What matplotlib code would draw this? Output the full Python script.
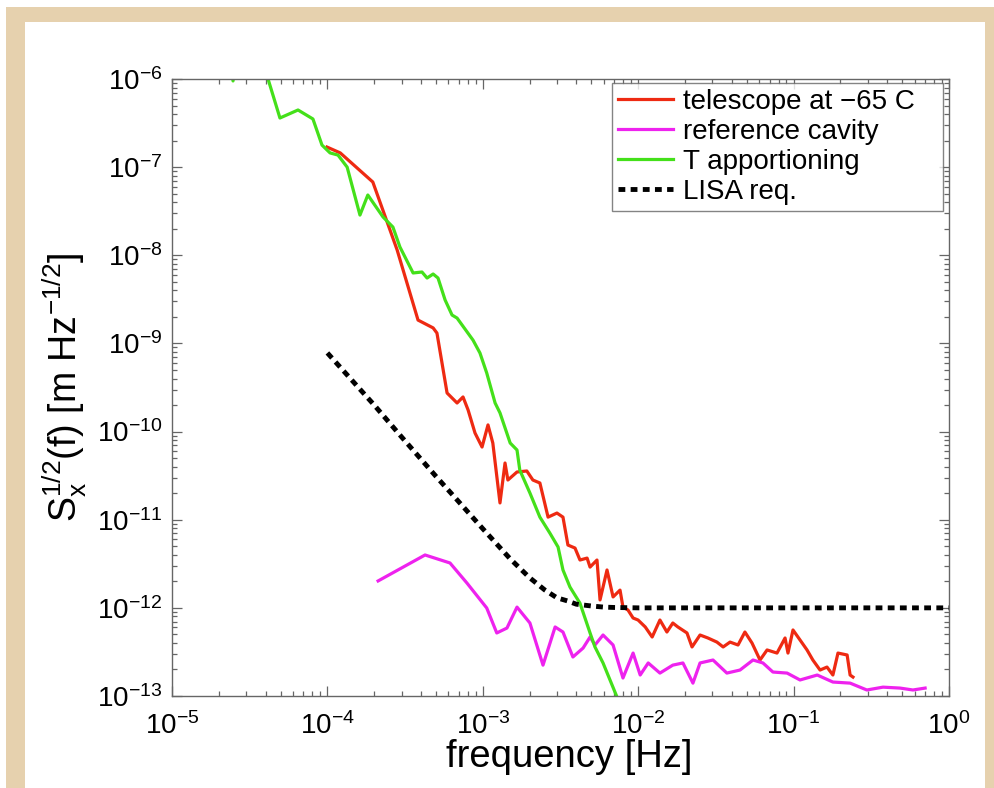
import numpy as np
import matplotlib
matplotlib.use("Agg")
import matplotlib.pyplot as plt
from matplotlib.patches import Rectangle
from matplotlib.ticker import LogLocator, NullFormatter

plt.rcParams.update({
    "font.family": ["Liberation Sans", "DejaVu Sans"],
    "mathtext.fontset": "custom",
    "mathtext.rm": "Liberation Sans",
    "mathtext.it": "Liberation Sans:italic",
    "mathtext.default": "regular",
    "axes.unicode_minus": False,
})

# telescope at -65 C  (red)
RED_F = [9.94e-5, 1.21e-4, 1.96e-4, 2.81e-4, 3.83e-4, 4.79e-4, 5.07e-4, 5.89e-4,
         6.83e-4, 7.46e-4, 8.04e-4, 8.91e-4, 9.89e-4, 1.08e-3, 1.16e-3, 1.29e-3,
         1.39e-3, 1.45e-3, 1.66e-3, 1.92e-3, 2.10e-3, 2.33e-3, 2.63e-3, 3.00e-3,
         3.28e-3, 3.53e-3, 3.92e-3, 4.22e-3, 4.69e-3, 4.90e-3, 5.43e-3, 5.68e-3,
         6.30e-3, 6.89e-3, 7.64e-3, 7.98e-3, 8.59e-3, 9.27e-3, 9.98e-3, 1.11e-2,
         1.23e-2, 1.38e-2, 1.53e-2, 1.67e-2, 1.80e-2, 2.06e-2, 2.22e-2, 2.50e-2,
         2.81e-2, 3.21e-2, 3.52e-2, 3.90e-2, 4.39e-2, 4.86e-2, 5.40e-2, 6.08e-2,
         6.75e-2, 7.82e-2, 8.81e-2, 9.20e-2, 9.91e-2, 0.110, 0.122, 0.133,
         0.148, 0.164, 0.179, 0.193, 0.221, 0.231, 0.241]
RED_S = [1.69e-7, 1.45e-7, 6.78e-8, 1.15e-8, 1.84e-9, 1.50e-9, 1.31e-9, 2.74e-10,
         2.11e-10, 2.47e-10, 1.76e-10, 9.63e-11, 6.68e-11, 1.19e-10, 7.42e-11, 1.55e-11,
         4.40e-11, 2.82e-11, 3.48e-11, 3.57e-11, 2.82e-11, 2.61e-11, 1.07e-11, 1.19e-11,
         1.07e-11, 5.16e-12, 4.77e-12, 3.49e-12, 3.67e-12, 2.90e-12, 3.49e-12, 1.23e-12,
         2.69e-12, 1.33e-12, 1.59e-12, 1.02e-12, 9.46e-13, 7.67e-13, 7.28e-13, 6.07e-13,
         4.67e-13, 7.28e-13, 5.32e-13, 6.73e-13, 6.07e-13, 5.19e-13, 3.60e-13, 4.92e-13,
         4.55e-13, 4.09e-13, 3.60e-13, 4.09e-13, 3.79e-13, 5.32e-13, 3.99e-13, 2.56e-13,
         3.33e-13, 3.07e-13, 4.55e-13, 3.07e-13, 5.61e-13, 4.32e-13, 3.33e-13, 2.56e-13,
         1.97e-13, 2.13e-13, 1.73e-13, 3.07e-13, 2.92e-13, 1.73e-13, 1.64e-13]

# reference cavity (magenta)
CAV_F = [2.12e-4, 4.25e-4, 6.15e-4, 7.91e-4, 1.06e-3, 1.23e-3, 1.43e-3, 1.66e-3,
         2.01e-3, 2.44e-3, 2.92e-3, 3.28e-3, 3.80e-3, 4.42e-3, 4.90e-3, 5.27e-3,
         5.94e-3, 6.89e-3, 7.98e-3, 9.27e-3, 1.03e-2, 1.16e-2, 1.38e-2, 1.67e-2,
         1.94e-2, 2.25e-2, 2.50e-2, 3.03e-2, 3.72e-2, 4.52e-2, 5.48e-2, 6.35e-2,
         7.36e-2, 9.08e-2, 0.110, 0.142, 0.179, 0.231, 0.296, 0.376,
         0.484, 0.586, 0.702]
CAV_S = [2.02e-12, 3.98e-12, 3.23e-12, 1.91e-12, 9.96e-13, 5.19e-13, 5.90e-13, 1.02e-12,
         6.73e-13, 2.24e-13, 6.07e-13, 5.32e-13, 2.77e-13, 3.50e-13, 4.67e-13, 3.79e-13,
         4.92e-13, 3.79e-13, 1.60e-13, 3.07e-13, 1.73e-13, 2.37e-13, 1.82e-13, 2.24e-13,
         2.37e-13, 1.40e-13, 2.37e-13, 2.56e-13, 1.82e-13, 1.97e-13, 2.56e-13, 2.37e-13,
         1.87e-13, 1.82e-13, 1.52e-13, 1.73e-13, 1.44e-13, 1.40e-13, 1.17e-13, 1.26e-13,
         1.23e-13, 1.17e-13, 1.23e-13]

# T apportioning (green)
TAP_F = [2.23e-5, 2.47e-5, 2.74e-5, 3.57e-5, 4.15e-5, 4.95e-5, 6.47e-5, 8.07e-5,
         9.23e-5, 1.04e-4, 1.17e-4, 1.34e-4, 1.62e-4, 1.82e-4, 2.28e-4, 2.64e-4,
         2.93e-4, 3.56e-4, 4.06e-4, 4.38e-4, 4.79e-4, 5.15e-4, 5.72e-4, 6.34e-4,
         6.83e-4, 8.65e-4, 9.59e-4, 1.06e-3, 1.20e-3, 1.29e-3, 1.50e-3, 1.66e-3,
         1.73e-3, 2.01e-3, 2.33e-3, 2.70e-3, 3.05e-3, 3.28e-3, 3.64e-3, 4.22e-3,
         4.90e-3, 5.27e-3, 5.94e-3, 7.31e-3]
TAP_S = [3.6e-6, 9.5e-7, 3.6e-6, 1.6e-6, 1.0e-6, 3.61e-7, 4.45e-7, 3.52e-7,
         1.78e-7, 1.45e-7, 1.37e-7, 1.0e-7, 2.86e-8, 4.83e-8, 2.72e-8, 2.09e-8,
         1.24e-8, 6.30e-9, 6.46e-9, 5.52e-9, 6.13e-9, 5.52e-9, 3.11e-9, 2.10e-9,
         1.94e-9, 1.09e-9, 7.78e-10, 4.62e-10, 2.11e-10, 1.63e-10, 7.42e-11, 6.18e-11,
         3.66e-11, 2.01e-11, 1.07e-11, 7.06e-12, 4.90e-12, 2.69e-12, 1.72e-12, 1.13e-12,
         5.19e-13, 3.60e-13, 2.37e-13, 9.7e-14]

# LISA requirement (black dotted)
LISA_F = [1e-4, 2e-4, 3e-4, 5e-4, 7e-4, 1e-3, 1.5e-3, 2e-3, 2.5e-3, 3e-3,
          3.5e-3, 4e-3, 5e-3, 6e-3, 7e-3, 1e-2, 1.0]
LISA_S = [7.8e-10, 2.0e-10, 8.7e-11, 3.1e-11, 1.6e-11, 7.9e-12, 3.6e-12, 2.2e-12,
          1.6e-12, 1.3e-12, 1.2e-12, 1.1e-12, 1.05e-12, 1.02e-12, 1.01e-12, 1e-12, 1e-12]

W, H = 995, 788
fig = plt.figure(figsize=(W / 100, H / 100), dpi=100)
fig.patch.set_facecolor("white")

# tan frame around the picture
tan = "#E6D1AE"
for x0, y0, w, h in [(6, 7, 19, 781), (6, 7, 989, 15), (985, 7, 10, 781)]:
    fig.add_artist(Rectangle((x0 / W, 1 - (y0 + h) / H), w / W, h / H,
                             transform=fig.transFigure, color=tan, lw=0))

ax = fig.add_axes([172 / W, 1 - 696 / H, 777 / W, 617 / H])
ax.plot(RED_F, RED_S, color="#EE2A12", lw=2.3, label="telescope at \u221265 C")
ax.plot(CAV_F, CAV_S, color="#EE22EE", lw=2.3, label="reference cavity")
ax.plot(TAP_F, TAP_S, color="#44E01A", lw=2.3, label="T apportioning")
ax.plot(LISA_F, LISA_S, color="black", lw=3.5, ls=(0, (1.4, 1.1)),
        dash_capstyle="butt", label="LISA req.")

ax.set_xscale("log")
ax.set_yscale("log")
ax.set_xlim(1e-5, 1e0)
ax.set_ylim(1e-13, 1e-6)
ax.set_xticks(10.0 ** np.arange(-5, 1))
ax.set_yticks(10.0 ** np.arange(-13, -5))
ax.xaxis.set_minor_locator(LogLocator(base=10, subs=range(2, 10), numticks=20))
ax.yaxis.set_minor_locator(LogLocator(base=10, subs=range(2, 10), numticks=20))
ax.xaxis.set_minor_formatter(NullFormatter())
ax.yaxis.set_minor_formatter(NullFormatter())

for s in ax.spines.values():
    s.set_color("#666666")
    s.set_linewidth(1.0)
ax.tick_params(which="both", direction="in", top=True, right=True,
               color="#666666", width=0.9)
ax.tick_params(which="major", length=7, labelsize=20)
ax.tick_params(axis="x", which="major", pad=12)
ax.tick_params(axis="y", which="major", pad=7)
ax.tick_params(which="minor", length=3.5)

ax.set_xlabel("frequency [Hz]", fontsize=27.5)
ax.xaxis.set_label_coords(0.511, -0.07)
ax.set_ylabel(r"$S_x^{1/2}(f)$ [m Hz$^{-1/2}$]", fontsize=27)
ax.yaxis.set_label_coords(-0.107, 0.5)

# MATLAB-style legend box: wider than its content, top right
leg = ax.legend(loc="upper left", bbox_to_anchor=(0.5663, 0.9935, 0.426, 0.0),
                mode="expand", borderaxespad=0.0, fontsize=20, frameon=True,
                fancybox=False, borderpad=0.2, labelspacing=0.15,
                handlelength=2.0, handletextpad=0.35)
leg.get_frame().set_edgecolor("#666666")
leg.get_frame().set_linewidth(1.0)

fig.savefig("out.png", dpi=100)
